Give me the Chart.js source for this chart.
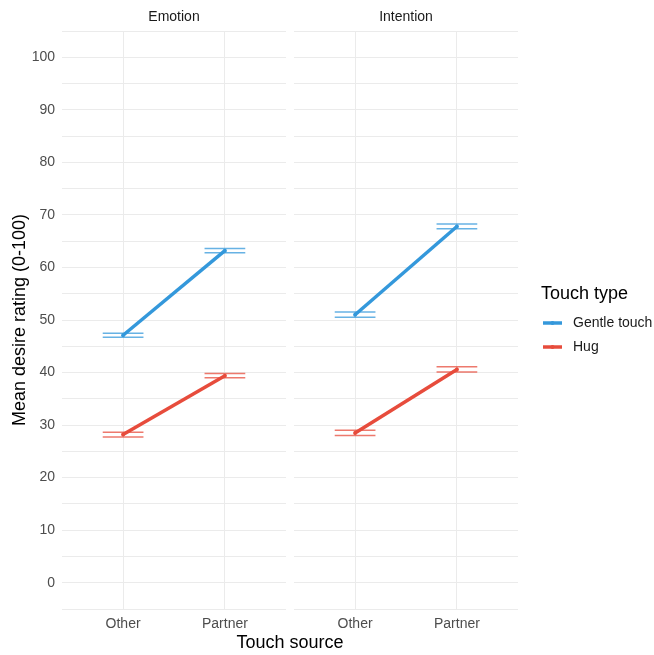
<!DOCTYPE html>
<html>
<head>
<meta charset="utf-8">
<script src="https://cdn.jsdelivr.net/npm/chart.js@4/dist/chart.umd.min.js"></script>
<style>
  html, body { margin: 0; padding: 0; background: #fff; }
  #wrap { position: relative; width: 654px; height: 655px; overflow: hidden; }
  canvas { position: absolute; top: 0; }
  #xTitle { position: absolute; left: 62px; width: 456px; top: 632px; text-align: center;
            font: 18px "Liberation Sans", Arial, sans-serif; color: #000; }
</style>
</head>
<body>
<div id="wrap">
  <canvas id="c1" width="290" height="655" style="left:0px"></canvas>
  <canvas id="c2" width="364" height="655" style="left:290px"></canvas>
  <div id="xTitle">Touch source</div>
</div>
<script>
// Touch source categories and facet names
const categories = ['Other', 'Partner'];
const facets = ['Emotion', 'Intention'];
const touchTypes = ['Gentle touch', 'Hug'];

// Mean desire ratings (0-100) per facet and touch type
const emotionGentle = [47.1, 63.2];
const emotionHug = [28.2, 39.4];
const intentionGentle = [51.0, 67.8];
const intentionHug = [28.5, 40.6];

// Standard errors for the error bars
const emotionGentleSE = [0.4, 0.4];
const emotionHugSE = [0.45, 0.4];
const intentionGentleSE = [0.5, 0.45];
const intentionHugSE = [0.5, 0.5];

const yTickLabels = [0, 10, 20, 30, 40, 50, 60, 70, 80, 90, 100];

const colors = ['#3498db', '#e74c3c'];
const errColors = ['rgba(52,152,219,0.75)', 'rgba(231,76,60,0.75)'];
const FONT = '"Liberation Sans", Arial, sans-serif';
const GRID = '#ebebeb';

function toPoints(values) {
  return values.map((v, i) => ({ x: i + 1, y: v }));
}

// Error bars: horizontal caps at mean +/- se with a thin vertical stem
const errorBars = {
  id: 'errorBars',
  afterDatasetsDraw(chart) {
    const { ctx, scales: { x, y } } = chart;
    chart.data.datasets.forEach((ds, di) => {
      const se = ds.se || [];
      ctx.save();
      ctx.strokeStyle = errColors[di];
      ctx.lineWidth = 1.5;
      ds.data.forEach((p, i) => {
        const xl = x.getPixelForValue(p.x - 0.2);
        const xr = x.getPixelForValue(p.x + 0.2);
        const xc = x.getPixelForValue(p.x);
        const yt = y.getPixelForValue(p.y + se[i]);
        const yb = y.getPixelForValue(p.y - se[i]);
        ctx.beginPath();
        ctx.moveTo(xl, yt); ctx.lineTo(xr, yt);
        ctx.moveTo(xl, yb); ctx.lineTo(xr, yb);
        ctx.moveTo(xc, yt); ctx.lineTo(xc, yb);
        ctx.stroke();
      });
      ctx.restore();
    });
  }
};

// Facet strip label above each panel
const stripLabel = {
  id: 'stripLabel',
  afterDraw(chart, args, opts) {
    const { ctx, chartArea } = chart;
    ctx.save();
    ctx.font = '14px ' + FONT;
    ctx.fillStyle = '#1a1a1a';
    ctx.textAlign = 'center';
    ctx.textBaseline = 'middle';
    ctx.fillText(opts.text, (chartArea.left + chartArea.right) / 2, 17);
    ctx.restore();
  }
};

// Rotated y-axis title on the left panel
const yTitle = {
  id: 'yTitle',
  afterDraw(chart, args, opts) {
    if (!opts.text) return;
    const { ctx, chartArea } = chart;
    ctx.save();
    ctx.translate(20, (chartArea.top + chartArea.bottom) / 2);
    ctx.rotate(-Math.PI / 2);
    ctx.font = '18px ' + FONT;
    ctx.fillStyle = '#000';
    ctx.textAlign = 'center';
    ctx.textBaseline = 'middle';
    ctx.fillText(opts.text, 0, 0);
    ctx.restore();
  }
};

// Legend to the right of the second panel
const sideLegend = {
  id: 'sideLegend',
  afterDraw(chart, args, opts) {
    if (!opts.show) return;
    const { ctx, chartArea } = chart;
    const x0 = chartArea.right + 23;
    ctx.save();
    ctx.font = '18px ' + FONT;
    ctx.fillStyle = '#000';
    ctx.textBaseline = 'middle';
    ctx.textAlign = 'left';
    ctx.fillText('Touch type', x0, 294);
    chart.data.datasets.forEach((ds, i) => {
      const yy = 323 + i * 24;
      ctx.strokeStyle = colors[i];
      ctx.lineWidth = 3.5;
      ctx.beginPath();
      ctx.moveTo(x0 + 2, yy);
      ctx.lineTo(x0 + 21, yy);
      ctx.stroke();
      ctx.fillStyle = colors[i];
      ctx.beginPath();
      ctx.arc(x0 + 11.5, yy, 2, 0, Math.PI * 2);
      ctx.fill();
      ctx.font = '14px ' + FONT;
      ctx.fillStyle = '#1a1a1a';
      ctx.fillText(ds.label, x0 + 32, yy);
    });
    ctx.restore();
  }
};

function makePanel(canvasId, facet, gentle, hug, gentleSE, hugSE, isLeft) {
  return new Chart(document.getElementById(canvasId), {
    type: 'line',
    data: {
      datasets: [
        { label: touchTypes[0], data: toPoints(gentle), se: gentleSE },
        { label: touchTypes[1], data: toPoints(hug), se: hugSE }
      ].map((d, i) => Object.assign(d, {
        borderColor: colors[i], backgroundColor: colors[i],
        borderWidth: 3.5, pointRadius: 2, pointBorderWidth: 0,
        fill: false, tension: 0
      }))
    },
    options: {
      responsive: false,
      animation: false,
      devicePixelRatio: 1,
      layout: { padding: isLeft ? { top: 31, right: 3, left: 0, bottom: 0 }
                                 : { top: 31, left: 3, right: 136, bottom: 0 } },
      plugins: {
        legend: { display: false },
        tooltip: { enabled: false },
        stripLabel: { text: facet },
        yTitle: { text: isLeft ? 'Mean desire rating (0-100)' : '' },
        sideLegend: { show: !isLeft }
      },
      scales: {
        x: {
          type: 'linear', min: 0.4, max: 2.6,
          afterBuildTicks: s => { s.ticks = categories.map((c, i) => ({ value: i + 1 })); },
          afterFit: s => { s.height = 46; },
          ticks: {
            callback: v => categories[v - 1],
            font: { size: 14, family: FONT }, color: '#4d4d4d', padding: 7,
            maxRotation: 0
          },
          grid: { color: GRID, lineWidth: 1, drawTicks: false },
          border: { display: false }
        },
        y: {
          type: 'linear', min: -5, max: 105,
          afterBuildTicks: s => {
            const t = [];
            for (let v = -5; v <= 105; v += 5) t.push({ value: v });
            s.ticks = t;
          },
          afterFit: s => { s.width = isLeft ? 62 : 0; },
          ticks: {
            display: isLeft,
            callback: v => yTickLabels.includes(v) ? String(v) : '',
            font: { size: 14, family: FONT }, color: '#4d4d4d', padding: 7
          },
          grid: { color: GRID, lineWidth: 1, drawTicks: false },
          border: { display: false }
        }
      }
    },
    plugins: [errorBars, stripLabel, yTitle, sideLegend]
  });
}

makePanel('c1', facets[0], emotionGentle, emotionHug, emotionGentleSE, emotionHugSE, true);
makePanel('c2', facets[1], intentionGentle, intentionHug, intentionGentleSE, intentionHugSE, false);
</script>
</body>
</html>
